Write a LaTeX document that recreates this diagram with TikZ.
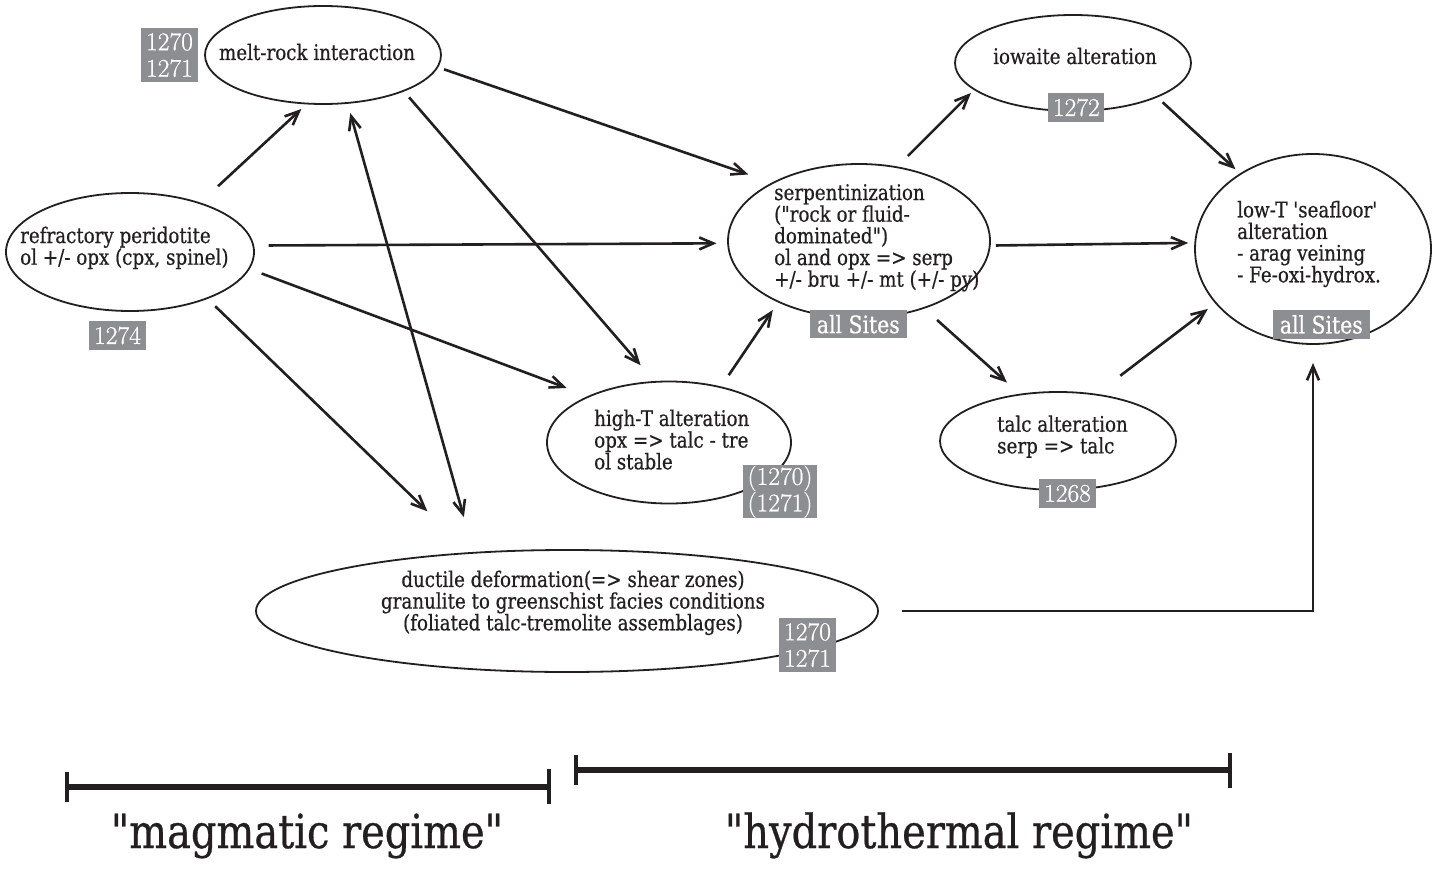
\documentclass[tikz,border=0pt]{standalone}
\usepackage{fontspec}
\setmainfont{DejaVu Serif}[FakeStretch=0.85, FakeBold=0.6, Ligatures=TeXOff]
\newfontfamily\numfont{Latin Modern Roman}[FakeBold=0.8]
\usetikzlibrary{shapes.geometric,arrows.meta}
\definecolor{ink}{RGB}{35,31,32}
\definecolor{labgrey}{RGB}{141,142,146}
\tikzset{
  ell/.style={draw=ink, line width=1.8pt, ellipse, inner sep=0pt, outer sep=0pt},
  txt/.style={text=ink, inner sep=0pt, font=\fontsize{21.5}{21.67}\selectfont},
  lab/.style={fill=labgrey, text=white, inner sep=0pt, align=center, font=\numfont\fontsize{25.5}{26.5}\selectfont},
  sitelab/.style={fill=labgrey, text=white, inner sep=0pt, font=\fontsize{24}{25}\selectfont},
  arr/.style={draw=ink, line width=2.6pt, -{Straight Barb[length=14pt,width=12pt]}},
  dblarr/.style={draw=ink, line width=2.6pt, {Straight Barb[length=14pt,width=12pt]}-{Straight Barb[length=14pt,width=12pt]}},
  bar/.style={draw=ink, line width=6.5pt},
  tickmark/.style={draw=ink, line width=4.5pt},
  regime/.style={text=ink, inner sep=0pt, font=\fontsize{47}{50}\selectfont},
}
\begin{document}
\begin{tikzpicture}[x=1pt,y=-1pt]
\useasboundingbox[fill=white] (0,0) rectangle (1442,869);

% ellipses
\node[ell, minimum width=236pt, minimum height=98pt]  (M) at (323,55) {};
\node[ell, minimum width=248pt, minimum height=118pt] (R) at (130,252) {};
\node[ell, minimum width=262pt, minimum height=154pt] (S) at (859,241) {};
\node[ell, minimum width=236pt, minimum height=96pt]  (I) at (1073,63) {};
\node[ell, minimum width=236pt, minimum height=190pt] (L) at (1313,249) {};
\node[ell, minimum width=244pt, minimum height=122pt] (H) at (669,442.5) {};
\node[ell, minimum width=236pt, minimum height=98pt]  (T) at (1058,441) {};
\node[ell, minimum width=622pt, minimum height=122pt] (D) at (567,611) {};

% texts (base anchor = baseline of the last line)
\node[txt, anchor=base] (Mt) at (317,60) {melt-rock interaction};
\node[txt, anchor=base west, align=left] (Rt) at (20,264.7) {refractory peridotite\\ol +/- opx (cpx, spinel)};
\node[txt, anchor=base west, align=left] (St) at (774,286.7) {serpentinization\\("rock or fluid-\\dominated")\\ol and opx => serp\\+/- bru +/- mt (+/- py)};
\node[txt, anchor=base west, align=left] (Lt) at (1237,282.3) {low-T 'seafloor'\\alteration\\- arag veining\\- Fe-oxi-hydrox.};
\node[txt, anchor=base] (It) at (1075,64) {iowaite alteration};
\node[txt, anchor=base west, align=left] (Ht) at (594,469.3) {high-T alteration\\opx => talc - tre\\ol stable};
\node[txt, anchor=base west, align=left] (Tt) at (997,453.4) {talc alteration\\serp => talc};
\node[txt, anchor=base, align=center] (Dt) at (573,630.3) {ductile deformation(=> shear zones)\\granulite to greenschist facies conditions\\(foliated talc-tremolite assemblages)};

% arrows
\draw[arr, shorten <=25pt, shorten >=8pt] (R.35.2) -- (M.252.7);
\draw[arr, shorten <=7pt, shorten >=26pt] (M.354.2) -- (S.146.7);
\draw[arr, shorten <=8.6pt, shorten >=22pt] (M.336.5) -- (H.103.7);
\draw[arr, shorten <=15.4pt, shorten >=11.5pt] (R.3.7) -- (S.181.75);
\draw[arr, shorten <=13.6pt, shorten >=24pt] (R.352.3) -- (H.150.75);
\draw[arr, shorten <=11.5pt, shorten >=60pt] (R.329.4) -- (D.149.7);
\draw[dblarr, shorten <=10.5pt, shorten >=37pt] (M.297.8) -- (D.148.3);
\draw[arr, shorten <=14.5pt, shorten >=10pt] (H.47.5) -- (S.217.1);
\draw[arr, shorten <=16pt, shorten >=5pt] (S.63.2) -- (I.195.7);
\draw[arr, shorten <=8pt, shorten >=7pt] (I.338.3) -- (L.134.9);
\draw[arr, shorten <=6pt, shorten >=7pt] (S.358.6) -- (L.177.2);
\draw[arr, shorten <=18pt, shorten >=18pt] (S.314) -- (T.129.5);
\draw[arr, shorten <=31pt, shorten >=10pt] (T.51.9) -- (L.209.6);
\draw[arr, shorten >=19pt] ([xshift=24pt]D.east) -| (L.south);

% site labels
\node[lab, minimum width=57pt, minimum height=54pt] (Ml) at (169.5,55) {1270\\1271};
\node[lab, minimum width=57pt, minimum height=29pt] (Rl) at (117.5,335.5) {1274};
\node[lab, minimum width=56pt, minimum height=28.5pt] (Il) at (1076.3,107.5) {1272};
\node[sitelab, minimum width=97pt, minimum height=28pt] (Sl) at (858.3,324.2) {all Sites};
\node[sitelab, minimum width=97pt, minimum height=29pt] (Ll) at (1321.3,324.5) {all Sites};
\node[lab, minimum width=57pt, minimum height=29pt] (Tl) at (1067.5,493.5) {1268};
\node[lab, minimum width=73.4pt, minimum height=53.3pt] (Hl) at (780,491.7) {(1270)\\(1271)};
\node[lab, minimum width=56.4pt, minimum height=53.4pt] (Dl) at (807.5,645) {1270\\1271};

% regime bars
\draw[bar] (67,787) -- (549,787);
\draw[tickmark] (67,772) -- (67,802);
\draw[tickmark] (549,769) -- (549,804);
\draw[bar] (576,770) -- (1230,770);
\draw[tickmark] (576,755) -- (576,785);
\draw[tickmark] (1230,753) -- (1230,788);
\node[regime, anchor=base] (mag) at (307,848) {"magmatic regime"};
\node[regime, anchor=base] (hyd) at (959,848) {"hydrothermal regime"};
\end{tikzpicture}
\end{document}
